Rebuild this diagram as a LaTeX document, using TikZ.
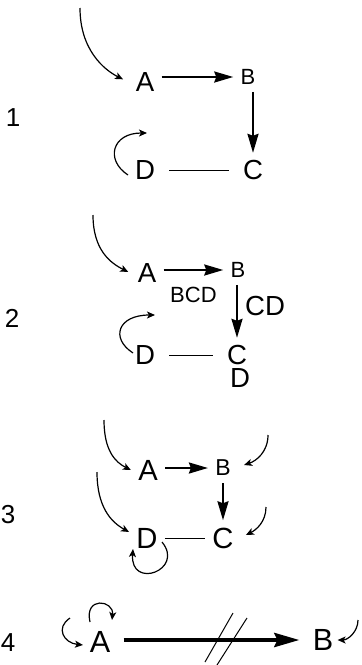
\documentclass[tikz,border=0pt]{standalone}
\usepackage{fontspec}
\setmainfont{Liberation Sans}
\usetikzlibrary{arrows.meta}

\begin{document}
\begin{tikzpicture}[x=0.5pt, y=-0.5pt, inner sep=3.5pt,
  vtx/.style={font=\fontsize{13.8}{13.8}\selectfont},
  vtxs/.style={font=\fontsize{11}{11}\selectfont},
  vtxm/.style={font=\fontsize{11.5}{11.5}\selectfont},
  vtxl/.style={font=\fontsize{14.6}{14.6}\selectfont},
  vtxh/.style={font=\fontsize{15.3}{15.3}\selectfont},
  num/.style={font=\fontsize{13}{13}\selectfont},
  tag/.style={font=\fontsize{11}{11}\selectfont},
  link/.style={line width=1.1pt, -{Stealth[length=9.5pt,width=5.5pt,inset=1pt]}},
  heavy/.style={line width=2pt, -{Stealth[length=12.5pt,width=7pt,inset=1.5pt]}},
  tie/.style={line width=0.5pt, shorten <=3.5pt, shorten >=3.5pt},
  feed/.style={line width=0.6pt, -{Stealth[length=4pt,width=3.5pt,inset=1pt]}},
  loopy/.style={line width=0.6pt, -{Stealth[length=4pt,width=3.5pt,inset=1pt]}}]
\useasboundingbox (0,0) rectangle (361,665);

\node[num] (n1) at (13,118) {1};
\node[vtx] (a1) at (145,82) {A};
\node[vtxs] (b1) at (248,77) {B};
\node[vtx] (c1) at (253,170) {C};
\node[vtx] (d1) at (145,170) {D};
\coordinate (s1) at (80,8);
\draw[feed, shorten >=3pt] (s1) .. controls +(0,42) and +(-24,-12) .. (a1.west);
\draw[link] (a1.east |- b1.west) -- (b1.west);
\draw[link] (b1.south -| c1.north) -- (c1.north);
\draw[tie] (d1.east) -- (c1.west);
\draw[loopy] ([shift={(-17,5)}]d1.center) .. controls +(-23,-15) and +(-35,0) .. ([shift={(2,-37)}]d1.center);

\node[num] (n2) at (12,318) {2};
\node[vtx] (a2) at (147,273) {A};
\node[vtxs] (b2) at (238,270) {B};
\node[vtx] (c2) at (237,355) {C};
\node[vtx] (d2) at (145,355) {D};
\node[vtx] (e2) at (240,378) {D};
\coordinate (s2) at (93,215);
\draw[feed, shorten >=1.2pt] (s2) .. controls +(0,35) and +(-20,-10) .. (a2.west);
\draw[link] (a2.east |- b2.west) -- node[tag, below=4.5pt] {BCD} (b2.west);
\draw[link] (b2.south -| c2.north) -- node[vtx, right=0pt, pos=0.4] {CD} (c2.north);
\draw[tie] (d2.east) -- (c2.west);
\draw[loopy] ([shift={(-12,-2)}]d2.center) .. controls +(-23,-15) and +(-37,0) .. ([shift={(10,-40)}]d2.center);

\node[num] (n3) at (8,515) {3};
\node[vtxl] (a3) at (148,470) {A};
\node[vtxm] (b3) at (223,468) {B};
\node[vtxl] (c3) at (223,538) {C};
\node[vtxl] (d3) at (147,538) {D};
\coordinate (s3a) at (104,420);
\coordinate (s3b) at (268,435);
\coordinate (s3d) at (97,472);
\coordinate (s3c) at (266,507);
\draw[feed] (s3a) .. controls +(0,30) and +(-16,-8) .. (a3.west);
\draw[feed] (s3b) .. controls +(0,17) and +(12,-4) .. ([shift={(6,-3)}]b3.east);
\draw[feed] (s3d) .. controls +(0,35) and +(-18,-10) .. ([shift={(0,-6)}]d3.west);
\draw[feed] (s3c) .. controls +(0,15) and +(10,-5) .. ([shift={(5,-3)}]c3.east);
\draw[link] (a3.east |- b3.west) -- (b3.west);
\draw[link] (b3.south -| c3.north) -- (c3.north);
\draw[tie, shorten <=0pt, shorten >=0pt] (d3.east) -- (c3.west);
\draw[loopy] ([shift={(15,4)}]d3.center) .. controls +(23,28) and +(-3,41) .. ([shift={(-14,11)}]d3.center);

\node[num] (n4) at (8,643) {4};
\node[vtxh] (a4) at (100,642) {A};
\node[vtxh] (b4) at (323,640) {B};
\coordinate (s4) at (358,620);
\draw[heavy, shorten <=3pt, shorten >=3pt] (a4.east |- b4.west) -- (b4.west);
\draw[line width=0.5pt] (233,613) -- (205,662) (247,618) -- (217,665);
\draw[loopy] ([shift={(-10,-20)}]a4.center) .. controls +(-6,-26) and +(2,-20) .. ([shift={(12,-22)}]a4.center);
\draw[loopy] ([shift={(-30,-24)}]a4.center) .. controls +(-15,10) and +(-19,-2) .. ([shift={(-17,3)}]a4.center);
\draw[feed] (s4) .. controls +(0,12) and +(10,0) .. ([xshift=-1.5pt]b4.east);
\end{tikzpicture}
\end{document}
